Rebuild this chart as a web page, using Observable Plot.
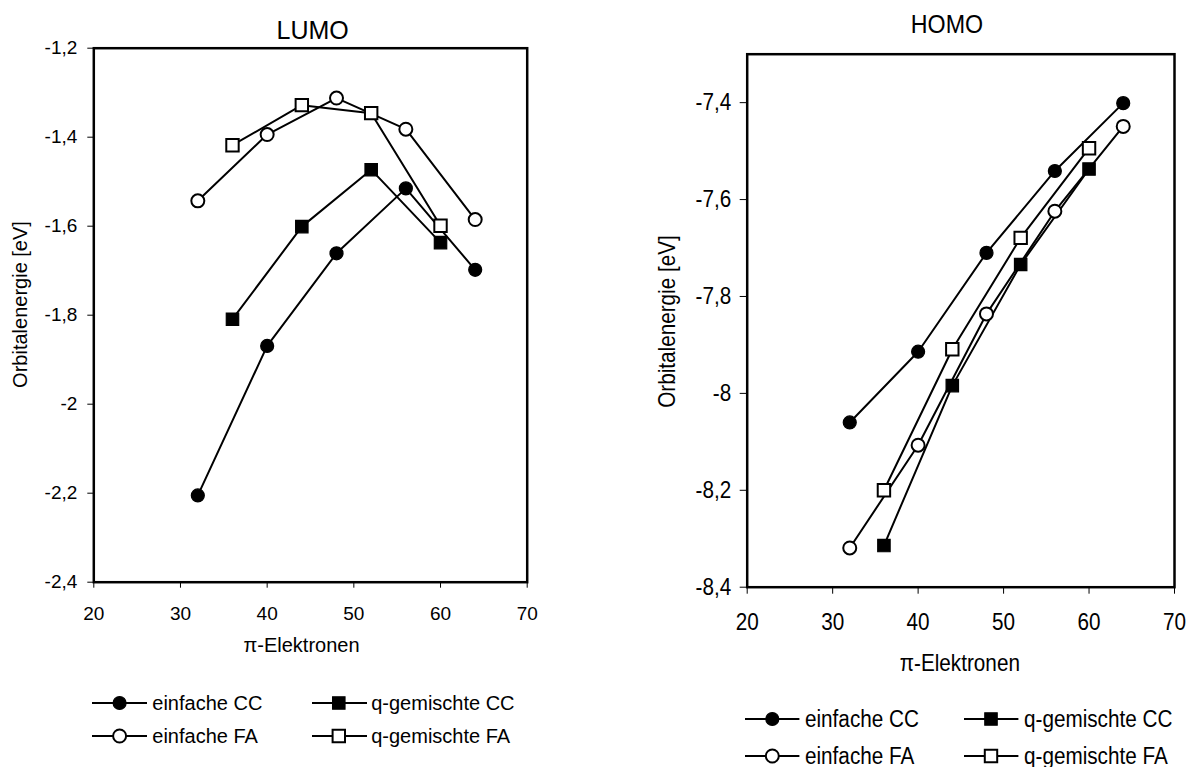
<!DOCTYPE html>
<html>
<head>
<meta charset="utf-8">
<script src="https://cdn.jsdelivr.net/npm/d3@7"></script>
<script src="https://cdn.jsdelivr.net/npm/@observablehq/plot@0.6"></script>
<style>
  body { margin: 0; background: #fff; }
  #root { position: relative; width: 1190px; height: 767px; overflow: hidden; background: #fff;
          font-family: "Liberation Sans", Arial, Helvetica, sans-serif; color: #000; }
  .abs { position: absolute; white-space: nowrap; line-height: 1; }
</style>
</head>
<body>
<div id="root"></div>
<script>
// ---------------- data ----------------
const seriesNames   = ["einfache CC", "q-gemischte CC", "einfache FA", "q-gemischte FA"];
const seriesSymbols = ["circle", "square", "circle", "square"];
const seriesFills   = ["black", "black", "white", "white"];

const xEinfache = [32, 40, 48, 56, 64];
const xGemischt = [36, 44, 52, 60];

const lumoEinfacheCC   = [-2.205, -1.869, -1.661, -1.515, -1.698];
const lumoGemischtCC   = [-1.809, -1.601, -1.473, -1.637];
const lumoEinfacheFA   = [-1.543, -1.394, -1.312, -1.382, -1.585];
const lumoGemischtFA   = [-1.418, -1.328, -1.346, -1.599];

const homoEinfacheCC   = [-8.060, -7.914, -7.710, -7.541, -7.401];
const homoGemischtCC   = [-8.314, -7.984, -7.734, -7.537];
const homoEinfacheFA   = [-8.319, -8.107, -7.836, -7.624, -7.449];
const homoGemischtFA   = [-8.200, -7.909, -7.679, -7.494];

const xTicks     = [20, 30, 40, 50, 60, 70];
const lumoYTicks = [-2.4, -2.2, -2, -1.8, -1.6, -1.4, -1.2];
const homoYTicks = [-8.4, -8.2, -8, -7.8, -7.6, -7.4];

const lumoTitle = "LUMO";
const homoTitle = "HOMO";
const xLabel = "\u03C0-Elektronen";
const yLabel = "Orbitalenergie [eV]";

// ---------------- helpers ----------------
function buildRows(ysList) {
  const xsList = [xEinfache, xGemischt, xEinfache, xGemischt];
  const rows = [];
  seriesNames.forEach((name, i) => {
    xsList[i].forEach((x, j) => rows.push({series: name, x, y: ysList[i][j]}));
  });
  return rows;
}
const fmtComma = d => String(+(+d).toFixed(1)).replace(".", ",");
const FONT = '"Liberation Sans", Arial, Helvetica, sans-serif';

function compressTexts(svg, k) {
  svg.querySelectorAll("text").forEach(t => {
    let tr = t.getAttribute("transform");
    if (tr == null) {
      const x = +(t.getAttribute("x") || 0), y = +(t.getAttribute("y") || 0);
      t.removeAttribute("x"); t.removeAttribute("y");
      tr = `translate(${x},${y})`;
    }
    t.setAttribute("transform", tr + ` scale(${k},1)`);
  });
}

function chart(cfg) {
  const data = buildRows(cfg.values);
  const marks = [
    Plot.axisX({ticks: xTicks, tickSize: cfg.tickSize, tickPadding: cfg.xPad,
                tickFormat: d => String(d), label: null, strokeWidth: 1}),
    Plot.axisY({ticks: cfg.yTicks, tickSize: cfg.tickSize, tickPadding: cfg.yPad,
                tickFormat: fmtComma, label: null, strokeWidth: 1}),
    Plot.frame({stroke: "black", strokeWidth: 2.5})
  ];
  seriesNames.forEach((name, i) => {
    const d = data.filter(r => r.series === name);
    marks.push(Plot.line(d, {x: "x", y: "y", stroke: "black", strokeWidth: 2}));
    marks.push(Plot.dot(d, {x: "x", y: "y", symbol: seriesSymbols[i],
      r: seriesSymbols[i] === "square" ? 7 : 6.5,
      fill: seriesFills[i], stroke: "black", strokeWidth: seriesFills[i] === "white" ? 2 : 1.2}));
  });
  marks.push(Plot.text([yLabel], {text: d => d, frameAnchor: "left", rotate: -90,
    textAnchor: "middle", lineAnchor: "middle", dx: cfg.yLabelDx, dy: cfg.yLabelDy,
    fontSize: cfg.labelSize, fill: "black"}));
  marks.push(Plot.text([xLabel], {text: d => d, frameAnchor: "bottom",
    textAnchor: "middle", lineAnchor: "middle", dx: cfg.xLabelDx, dy: cfg.xLabelDy,
    fontSize: cfg.labelSize, fill: "black"}));

  const svg = Plot.plot({
    width: cfg.width, height: cfg.height,
    marginLeft: cfg.ml, marginRight: cfg.mr, marginTop: cfg.mt, marginBottom: cfg.mb,
    x: {domain: [20, 70]},
    y: {domain: cfg.yDomain},
    style: {fontFamily: FONT, fontSize: cfg.fontSize + "px", color: "black",
            background: "transparent", overflow: "visible"},
    marks
  });
  svg.style.position = "absolute";
  svg.style.left = cfg.left + "px";
  svg.style.top = "0px";
  svg.style.maxWidth = "none";
  return svg;
}

function addTitle(root, text, cx, cy, size, k) {
  const div = document.createElement("div");
  div.className = "abs";
  div.textContent = text;
  div.style.left = cx + "px";
  div.style.top = cy + "px";
  div.style.fontSize = size + "px";
  div.style.transform = `translate(-50%,-50%) scaleX(${k})`;
  root.appendChild(div);
}

function addLegend(root, cfg) {
  seriesNames.forEach((name, i) => {
    const col = i % 2, row = Math.floor(i / 2);
    const x0 = cfg.swatchX[col], y = cfg.rowY[row], w = cfg.swatchW;
    const svg = d3.create("svg")
      .attr("width", w).attr("height", 24)
      .style("position", "absolute").style("left", x0 + "px").style("top", (y - 12) + "px")
      .style("overflow", "visible");
    svg.append("line").attr("x1", 0).attr("x2", w).attr("y1", 12).attr("y2", 12)
      .attr("stroke", "black").attr("stroke-width", 2);
    const r = seriesSymbols[i] === "square" ? 7 : 6.5;
    const sym = seriesSymbols[i] === "square" ? d3.symbolSquare : d3.symbolCircle;
    svg.append("path").attr("d", d3.symbol(sym, Math.PI * r * r)())
      .attr("transform", `translate(${cfg.markerDx[col]},12)`)
      .attr("fill", seriesFills[i]).attr("stroke", "black")
      .attr("stroke-width", seriesFills[i] === "white" ? 2 : 1.2);
    root.appendChild(svg.node());
    const div = document.createElement("div");
    div.className = "abs";
    div.textContent = name;
    div.style.left = cfg.textX[col] + "px";
    div.style.top = y + "px";
    div.style.fontSize = cfg.fontSize + "px";
    div.style.transformOrigin = "0 0";
    div.style.transform = `scaleX(${cfg.k}) translateY(-50%)`;
    root.appendChild(div);
  });
}

// ---------------- render ----------------
const root = document.getElementById("root");

const left = chart({
  values: [lumoEinfacheCC, lumoGemischtCC, lumoEinfacheFA, lumoGemischtFA],
  yTicks: lumoYTicks, yDomain: [-2.4, -1.2],
  left: 0, width: 600, height: 690,
  ml: 93.3, mr: 73.3, mt: 47.7, mb: 108.3,
  fontSize: 19, labelSize: 20, tickSize: 6, xPad: 18, yPad: 10.5,
  yLabelDx: -73.3, yLabelDy: -10.7, xLabelDx: -9, xLabelDy: 63.3
});
root.appendChild(left);

const right = chart({
  values: [homoEinfacheCC, homoGemischtCC, homoEinfacheFA, homoGemischtFA],
  yTicks: homoYTicks, yDomain: [-8.4, -7.3],
  left: 600, width: 590, height: 690,
  ml: 146.7, mr: 16, mt: 53.7, mb: 103.3,
  fontSize: 23, labelSize: 23, tickSize: 7, xPad: 19, yPad: 9,
  yLabelDx: -79.7, yLabelDy: 0.8, xLabelDx: -1, xLabelDy: 76.3
});
root.appendChild(right);
compressTexts(right, 0.9);

addTitle(root, lumoTitle, 312.7, 30.3, 25, 1);
addTitle(root, homoTitle, 947, 24, 25, 0.93);

addLegend(root, {swatchX: [91.8, 311.9], swatchW: 55, markerDx: [27.6, 26.8],
  textX: [152.3, 371.2], rowY: [702.7, 736], fontSize: 20, k: 1});
addLegend(root, {swatchX: [745, 964], swatchW: 54.4, markerDx: [27.3, 27],
  textX: [805, 1024.4], rowY: [719.3, 756], fontSize: 23, k: 0.9});
</script>
</body>
</html>
